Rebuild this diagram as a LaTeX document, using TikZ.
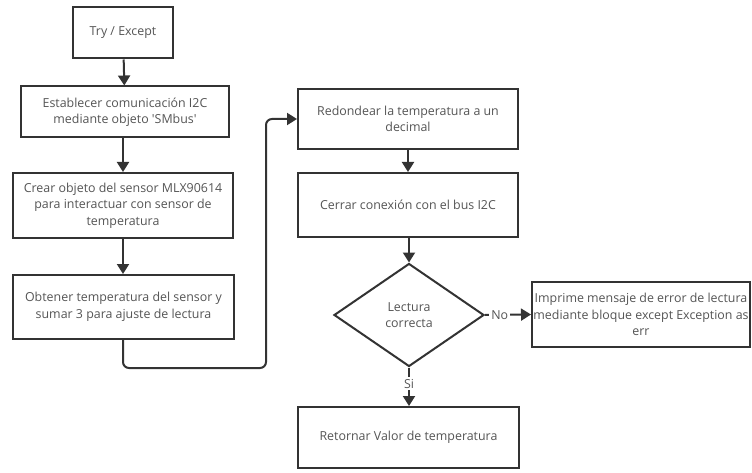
\documentclass[tikz,border=0pt]{standalone}
\usepackage{fontspec}
\setmainfont{Open Sans}
\usetikzlibrary{arrows.meta,shapes.geometric,calc}
\definecolor{linec}{HTML}{333333}
\definecolor{textc}{HTML}{555555}
\begin{document}
\begin{tikzpicture}[x=1pt,y=-1pt,
  box/.style={draw=linec, line width=2pt, fill=white, rectangle, align=center,
    text=textc, inner sep=0pt, font=\fontsize{12.4}{16.5}\selectfont},
  decision/.style={draw=linec, line width=2pt, fill=white, diamond, align=center,
    text=textc, inner sep=0pt, font=\fontsize{12.4}{16.5}\selectfont},
  flow/.style={draw=linec, line width=2pt, -{Triangle[width=12pt,length=10pt]}},
  lbl/.style={fill=white, text=textc, inner sep=2pt, font=\fontsize{12.4}{16.5}\selectfont}]
\useasboundingbox[fill=white] (0,0) rectangle (752,473);

\node[box, minimum width=100pt, minimum height=51pt] (try) at (123,33) {Try / Except};
\node[box, minimum width=208pt, minimum height=51pt] (smbus) at (125,112)
  {Establecer comunicación I2C\\mediante objeto \textquotesingle SMbus\textquotesingle};
\node[box, minimum width=220pt, minimum height=65pt] (sensor) at (123,205.5)
  {Crear objeto del sensor MLX90614\\para interactuar con sensor de\\temperatura};
\node[box, minimum width=221pt, minimum height=64pt] (read) at (123.5,307)
  {Obtener temperatura del sensor y\\sumar 3 para ajuste de lectura};
\node[box, minimum width=220pt, minimum height=60pt] (round) at (408,119)
  {Redondear la temperatura a un\\decimal};
\node[box, minimum width=220pt, minimum height=64pt] (close) at (408,205)
  {Cerrar conexión con el bus I2C};
\node[decision, minimum width=150pt, minimum height=103pt, aspect=1.45] (check) at (409,315)
  {Lectura\\correcta};
\node[box, minimum width=218pt, minimum height=65pt] (error) at (641,314.5)
  {Imprime mensaje de error de lectura\\mediante bloque except Exception as\\err};
\node[box, minimum width=221pt, minimum height=61pt] (ret) at (408.5,437.5)
  {Retornar Valor de temperatura};

\coordinate (c1) at (123,368);
\coordinate (c2) at (266,368);
\coordinate (c3) at (266,119);

\draw[flow] (try) -- (smbus);
\draw[flow] (smbus.south -| try) -- (sensor.north -| try);
\draw[flow] (sensor) -- (read.north -| sensor);
\draw[flow, rounded corners=6pt] (read.south -| sensor) -- (c1) -- (c2) -- (c3) -- (round.west);
\draw[flow] (round) -- (close.north -| round);
\draw[flow] (close.south -| check) -- (check.north);
\draw[flow] (check.east) -- node[lbl, pos=0.32] {No} (error.west);
\draw[flow] (check.south) -- node[lbl, pos=0.42] {Si} (ret.north -| check);
\end{tikzpicture}
\end{document}
